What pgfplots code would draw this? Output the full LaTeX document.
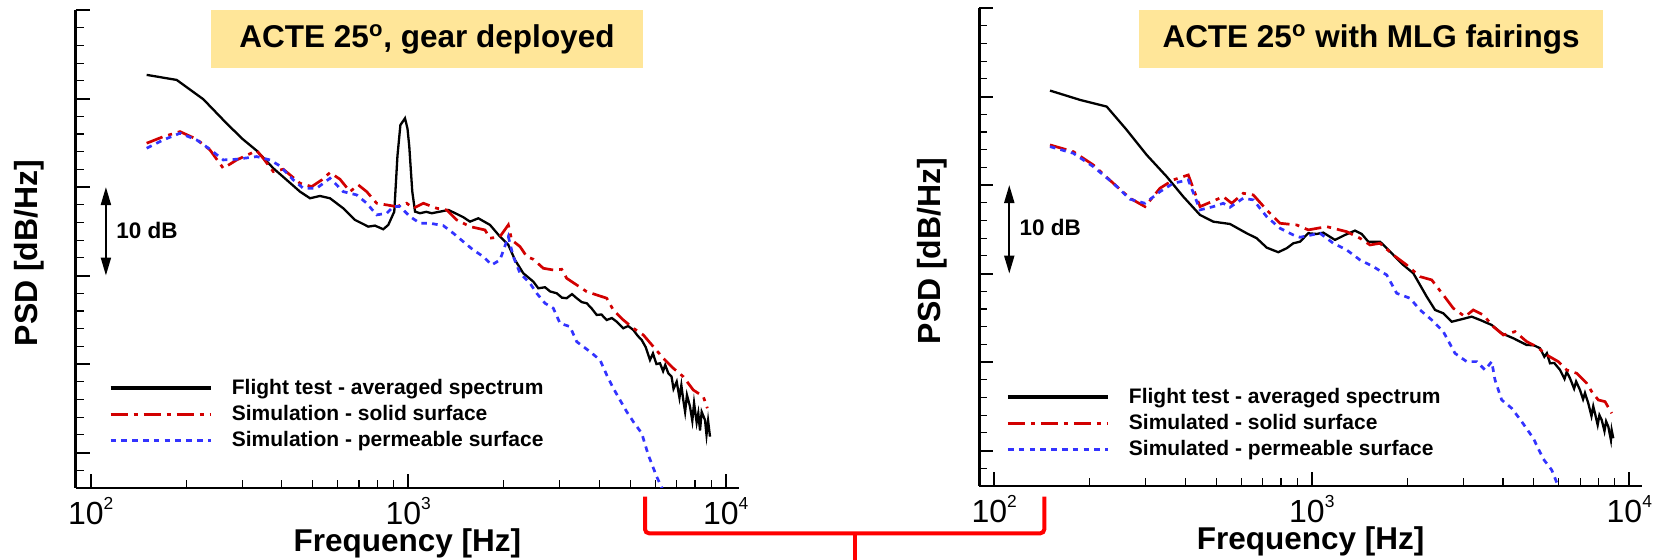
\documentclass[border=0pt]{standalone}
\usepackage{fontspec}
\setmainfont{Liberation Sans}
\usepackage{pgfplots}
\pgfplotsset{compat=1.18}
\usetikzlibrary{arrows.meta}

\definecolor{simred}{RGB}{210,0,0}
\definecolor{simblue}{RGB}{51,51,255}
\definecolor{boxfill}{RGB}{255,230,153}
\definecolor{bracketred}{RGB}{255,0,0}

% decade tick label: 10 with a raised exponent
\newcommand\dec[1]{10\raisebox{7.6pt}{\fontsize{8.7}{8.7}\selectfont #1}}

\begin{document}
\begin{tikzpicture}[x=0.5pt, y=0.5pt]
\useasboundingbox (0,0) rectangle (1662,560);

% ---------------- gear deployed ----------------
\begin{axis}[at={(37.85pt,36pt)}, anchor=south west,
  scale only axis, width=331.65pt, height=239pt,
  xmode=log, xmin=89.72, xmax=11012, ymin=0, ymax=54,
  axis x line=bottom, axis y line=left,
  axis line style={-, line width=1.4pt},
  tick align=inside,
  xtick={100,1000,10000},
  xticklabels={\dec{2},\dec{3},\dec{4}},
  minor xtick={200,300,400,500,600,700,800,900,2000,3000,4000,5000,6000,7000,8000,9000},
  ytick={4,14,24,34,44,54}, yticklabels={},
  minor ytick={2,6,8,10,12,16,18,20,22,26,28,30,32,36,38,40,42,46,48,50,52},
  major tick length=7pt, minor tick length=4pt,
  major tick style={line width=1pt, black},
  minor tick style={line width=0.6pt, black},
  xticklabel style={font=\fontsize{16}{16}\selectfont, anchor=base, yshift=-18.5pt, inner sep=0pt},
  xlabel={Frequency [Hz]},
  xlabel style={at={(axis description cs:0.5,0)}, anchor=base, yshift=-31.85pt, inner sep=0pt,
                text height=11.4pt, font=\fontsize{15.75}{18}\selectfont\bfseries},
  ylabel={PSD [dB/Hz]},
  ylabel style={at={(axis description cs:0,0.5)}, anchor=base, yshift=19.2pt, xshift=-2pt,
                font=\fontsize{16}{18}\selectfont\bfseries},
  legend style={at={(0.0497,0.2375)}, anchor=north west,
                draw=none, fill=none, inner sep=0pt, row sep=0pt,
                font=\fontsize{10.5}{12}\selectfont\bfseries,
                /tikz/every odd column/.append style={column sep=7.8pt}},
  legend cell align=left,
  legend image code/.code={\draw[#1, line width=1.6pt] (0pt,0pt) -- (50pt,0pt);}]
\addplot[black, line width=1.15pt] coordinates {
(150.1,46.67) (186.6,46.10) (226.3,43.92) (261.6,41.58) (298.9,39.51) (333.3,38.11)
(376.0,36.12) (414.3,34.80) (456.3,33.48) (490.6,32.73) (527.4,32.99) (567.1,32.73)
(624.5,31.60) (680.0,30.28) (748.7,29.53) (786.0,29.64) (834.7,29.23) (865.5,29.72)
(904.0,31.22) (925.0,37.5) (945.0,41.0) (977.0,41.77) (995.0,40.6) (1008,38.56)
(1030,33.5) (1051,31.22) (1089,31.04) (1140,31.2) (1186,31.04) (1259,31.22)
(1338,31.41) (1422,30.96) (1490,30.6) (1566,30.09) (1663,30.47) (1810,29.72)
(1946,28.40) (2067,27.46) (2170,25.76) (2304,24.26) (2478,23.31) (2569,22.56)
(2697,22.68) (2800,22.2) (2936,22.00) (3050,21.5) (3156,21.44) (3280,21.9)
(3394,21.44) (3520,21.0) (3649,20.87) (3780,20.3) (3924,19.55) (4060,19.6)
(4219,18.98) (4380,19.2) (4536,18.79) (4759,18.05) (4930,18.3) (5117,17.85)
(5280,17.2) (5438,16.72) (5600,15.9) (5775,14.46) (5900,15.2) (6050,14.0)
(6209,14.09) (6350,13.2) (6450,13.9) (6595,12.96) (6750,12.6) (6850,11.2)
(7009,12.01) (7150,10.2) (7250,11.6) (7352,9.94) (7450,8.6) (7550,10.5)
(7719,9.19) (7850,7.6) (7950,9.6) (8100,7.4) (8197,8.44) (8300,6.5)
(8400,8.6) (8605,7.68) (8700,6.0) (8800,7.6) (8923,5.80)
};
\addplot[simred, line width=1.35pt, dash pattern=on 8.5pt off 3pt on 2pt off 3pt] coordinates {
(150.1,38.95) (169.3,39.69) (191.1,40.26) (215.7,39.40) (237.5,38.19) (261.6,36.12)
(288.3,37.06) (333.3,38.11) (349.6,37.25) (376.0,35.74) (404.2,36.01) (456.3,34.43)
(496.7,34.05) (534.0,34.80) (567.1,35.63) (609.8,34.88) (655.7,33.48) (696.3,34.24)
(740.1,33.48) (795.7,32.17) (855.7,31.98) (919.9,31.79) (989.2,32.17) (1038,31.60)
(1116,32.17) (1230,31.60) (1322,31.41) (1422,30.28) (1566,29.53) (1745,29.15)
(1810,28.21) (1946,28.40) (2067,29.72) (2118,28.02) (2250,27.27) (2362,26.14)
(2478,25.84) (2664,24.82) (2864,24.63) (3044,24.71) (3156,23.69) (3394,22.94)
(3649,22.18) (3924,21.81) (4219,21.44) (4426,20.11) (4759,18.98) (5117,18.05)
(5502,17.29) (5915,15.97) (6360,14.66) (6838,13.53) (7352,12.58) (7906,11.07)
(8502,10.32) (8752,9.01)
};
\addplot[simblue, line width=1.35pt, dash pattern=on 2.8pt off 2.6pt] coordinates {
(150.1,38.38) (169.3,39.32) (191.1,40.08) (215.7,39.32) (237.5,38.27) (261.6,37.06)
(288.3,37.14) (333.3,37.44) (367.1,37.06) (394.7,36.38) (434.7,34.80) (467.3,33.86)
(515.0,33.86) (567.1,34.99) (624.5,33.48) (688.3,33.11) (740.1,32.17) (795.7,30.85)
(855.7,31.04) (897.7,31.79) (942.3,31.79) (1013,30.66) (1089,29.91) (1171,29.91)
(1290,29.64) (1387,28.78) (1491,27.83) (1603,26.89) (1724,26.14) (1832,25.20)
(1946,25.76) (2067,28.40) (2143,26.14) (2250,24.26) (2419,23.13) (2539,22.00)
(2697,20.87) (2864,20.31) (3007,18.61) (3233,18.23) (3394,16.53) (3738,15.40)
(4019,14.46) (4219,12.77) (4426,11.27) (4646,9.94) (4877,8.62) (5117,7.49)
(5438,6.18) (5704,3.73) (6062,1.28) (6392,-0.5)
};
\legend{Flight test - averaged spectrum, Simulation - solid surface, Simulation - permeable surface}
\draw[line width=1pt, {Triangle[length=9pt,width=5pt]}-{Triangle[length=9pt,width=5pt]}]
  (axis cs:111.7,24) -- (axis cs:111.7,34);
\node[anchor=west, inner sep=0pt, font=\fontsize{11.25}{12}\selectfont\bfseries]
  at (axis cs:120.1,29.15) {10 dB};
\end{axis}

% ---------------- with MLG fairings ----------------
\begin{axis}[at={(489.65pt,37pt)}, anchor=south west,
  scale only axis, width=331.2pt, height=239pt,
  xmode=log, xmin=89.72, xmax=10940, ymin=0, ymax=54,
  axis x line=bottom, axis y line=left,
  axis line style={-, line width=1.4pt},
  tick align=inside,
  xtick={100,1000,10000},
  xticklabels={\dec{2},\dec{3},\dec{4}},
  minor xtick={200,300,400,500,600,700,800,900,2000,3000,4000,5000,6000,7000,8000,9000},
  ytick={4,14,24,34,44,54}, yticklabels={},
  minor ytick={2,6,8,10,12,16,18,20,22,26,28,30,32,36,38,40,42,46,48,50,52},
  major tick length=7pt, minor tick length=4pt,
  major tick style={line width=1pt, black},
  minor tick style={line width=0.6pt, black},
  xticklabel style={font=\fontsize{16}{16}\selectfont, anchor=base, yshift=-18.5pt, inner sep=0pt},
  xlabel={Frequency [Hz]},
  xlabel style={at={(axis description cs:0.5,0)}, anchor=base, yshift=-31.85pt, inner sep=0pt,
                text height=11.4pt, font=\fontsize{15.75}{18}\selectfont\bfseries},
  ylabel={PSD [dB/Hz]},
  ylabel style={at={(axis description cs:0,0.5)}, anchor=base, yshift=19.2pt, xshift=-2pt,
                font=\fontsize{16}{18}\selectfont\bfseries},
  legend style={at={(0.0402,0.2145)}, anchor=north west,
                draw=none, fill=none, inner sep=0pt, row sep=0pt,
                font=\fontsize{10.5}{12}\selectfont\bfseries,
                /tikz/every odd column/.append style={column sep=7.7pt}},
  legend cell align=left,
  legend image code/.code={\draw[#1, line width=1.6pt] (0pt,0pt) -- (50pt,0pt);}]
\addplot[black, line width=1.15pt] coordinates {
(149.8,44.67) (186.2,43.62) (226.0,42.86) (261.2,40.23) (302.0,37.40) (349.2,34.95)
(393.8,32.69) (444.6,30.62) (489.5,29.86) (552.5,29.60) (623.6,28.55) (670.6,27.99)
(721.0,26.93) (784.3,26.41) (833.5,26.86) (874.6,27.42) (917.9,27.60) (974.9,28.55)
(1036,28.47) (1087,28.62) (1183,27.80) (1272,28.36) (1368,28.85) (1436,28.47)
(1506,27.60) (1640,27.60) (1722,26.86) (1828,25.91) (1942,24.97) (2088,24.03)
(2192,22.71) (2301,21.39) (2444,19.89) (2595,19.51) (2758,18.56) (2966,18.84)
(3189,19.13) (3387,18.76) (3687,18.19) (3964,17.25) (4312,16.69) (4752,15.93)
(5000,15.9) (5233,15.56) (5400,14.6) (5500,15.0) (5626,13.86) (5800,13.9)
(6050,13.11) (6250,12.1) (6350,12.9) (6504,12.17) (6700,11.0) (6800,11.8)
(6993,10.85) (7150,9.8) (7250,10.5) (7428,9.34) (7600,7.9) (7700,9.0)
(7797,8.21) (7950,6.9) (8050,8.0) (8185,7.46) (8350,6.2) (8450,7.3)
(8587,6.70) (8750,5.2) (8800,6.3) (8904,5.39)
};
\addplot[simred, line width=1.35pt, dash pattern=on 8.5pt off 3pt on 2pt off 3pt] coordinates {
(149.8,38.53) (177.4,37.77) (205.0,36.27) (237.0,34.20) (267.6,32.51) (298.3,31.56)
(332.6,33.64) (366.3,34.58) (408.3,35.14) (444.6,31.56) (483.9,32.12) (526.3,32.69)
(559.4,31.94) (608.5,33.07) (654.3,32.88) (721.0,31.19) (794.0,29.68) (896.4,29.49)
(974.9,28.93) (1114,29.30) (1288,28.73) (1418,27.99) (1525,27.23) (1640,27.42)
(1806,26.10) (1990,24.97) (2192,23.65) (2386,23.28) (2595,21.58) (2790,20.08)
(3037,19.13) (3226,19.89) (3469,19.32) (3730,18.00) (4010,17.06) (4365,17.44)
(4752,16.31) (5109,15.74) (5494,14.80) (5975,14.05) (6351,13.11) (6828,12.73)
(7342,11.60) (7613,10.66) (7986,9.72) (8384,9.53) (8803,8.21)
};
\addplot[simblue, line width=1.35pt, dash pattern=on 2.8pt off 2.6pt] coordinates {
(149.8,38.34) (177.4,37.59) (205.0,36.08) (237.0,34.20) (267.6,32.40) (298.3,31.94)
(332.6,33.25) (366.3,34.20) (408.3,34.58) (444.6,31.19) (489.5,31.56) (526.3,31.94)
(552.5,31.49) (608.5,32.51) (654.3,32.32) (721.0,30.43) (794.0,29.12) (874.6,28.36)
(917.9,28.10) (1061,28.55) (1169,27.42) (1288,26.67) (1418,25.54) (1562,24.78)
(1722,23.84) (1851,21.77) (2038,21.21) (2192,19.89) (2386,18.76) (2595,17.44)
(2825,14.99) (3075,14.05) (3307,14.05) (3512,13.11) (3687,14.05) (3776,11.98)
(3964,9.72) (4262,8.78) (4583,7.27) (4985,5.39) (5359,3.05) (5696,1.81)
(5932,0.23) (6050,-0.5)
};
\legend{Flight test - averaged spectrum, Simulated - solid surface, Simulated - permeable surface}
\draw[line width=1pt, {Triangle[length=9pt,width=5pt]}-{Triangle[length=9pt,width=5pt]}]
  (axis cs:111.5,24) -- (axis cs:111.5,34);
\node[anchor=west, inner sep=0pt, font=\fontsize{11.25}{12}\selectfont\bfseries]
  at (axis cs:119.9,29.2) {10 dB};
\end{axis}

% panel titles
\node[fill=boxfill, minimum width=216pt, minimum height=29pt, inner sep=0pt,
      font=\fontsize{15.75}{18}\selectfont\bfseries] at (427,521)
  {ACTE 25\textsuperscript{o}, gear deployed};
\node[fill=boxfill, minimum width=232pt, minimum height=29pt, inner sep=0pt,
      font=\fontsize{15.75}{18}\selectfont\bfseries] at (1371,521)
  {ACTE 25\textsuperscript{o} with MLG fairings};

% bracket joining the two frequency ranges
\draw[bracketred, line width=2pt, rounded corners=2pt]
  (645,63.3) -- (645,26.7) -- (1044.3,26.7) -- (1044.3,63.3);
\draw[bracketred, line width=2pt] (855,26.7) -- (855,-5);
\end{tikzpicture}
\end{document}
